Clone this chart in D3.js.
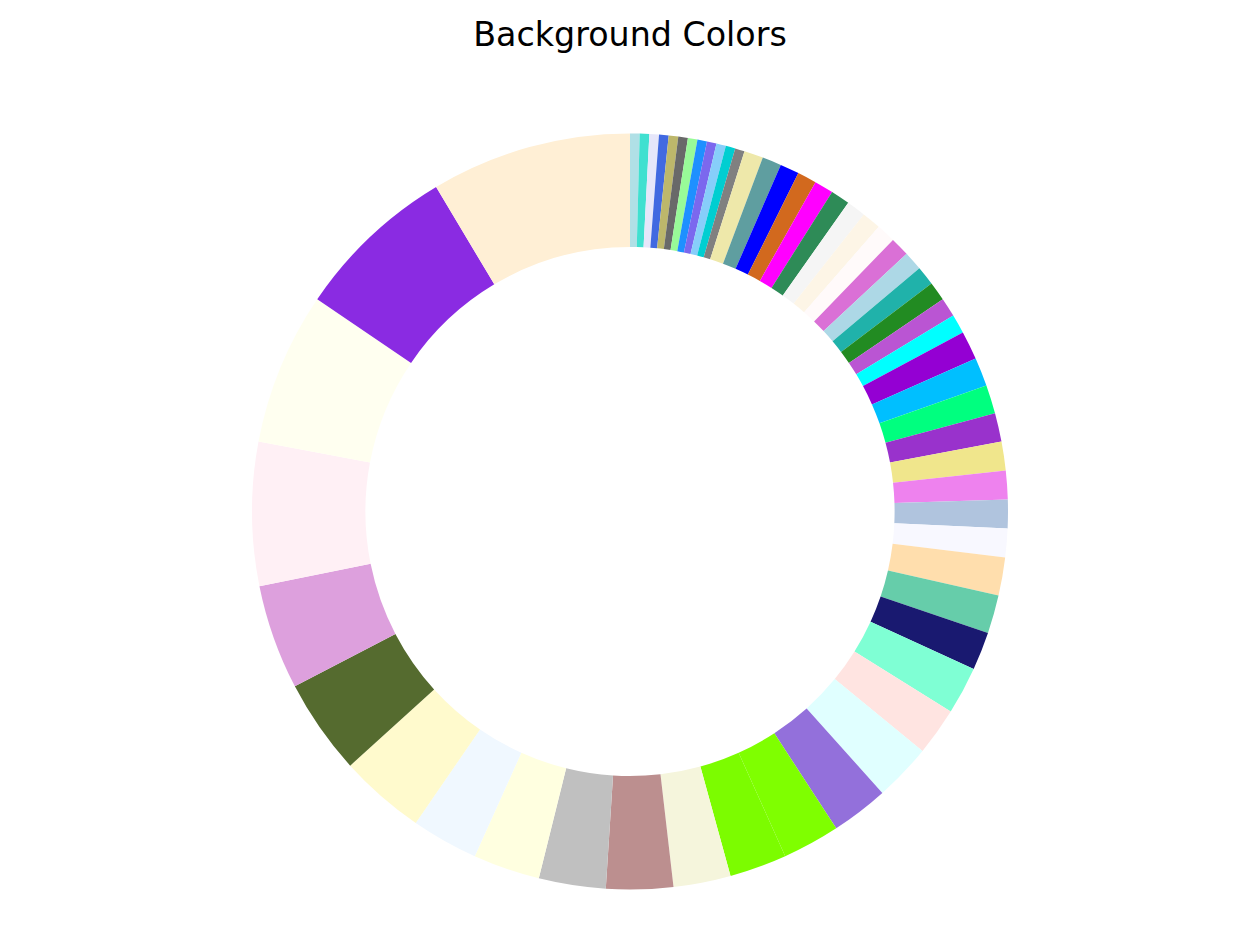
<!DOCTYPE html>
<html>
<head>
<meta charset="utf-8">
<script src="https://cdn.jsdelivr.net/npm/d3@7"></script>
<style>
  html, body { margin: 0; padding: 0; background: #ffffff; }
  svg { display: block; }
</style>
</head>
<body>
<script>
// Category names (CSS colour names) in clockwise order from 12 o'clock
const categories = [
  "powderblue", "turquoise", "lavender", "royalblue", "darkkhaki", "dimgray",
  "palegreen", "dodgerblue", "mediumslateblue", "lightskyblue", "darkturquoise", "gray",
  "palegoldenrod", "cadetblue", "blue", "chocolate", "magenta", "seagreen",
  "whitesmoke", "oldlace", "snow", "orchid", "lightblue", "lightseagreen",
  "forestgreen", "mediumorchid", "cyan",
  "darkviolet", "deepskyblue", "springgreen", "darkorchid", "khaki", "violet",
  "lightsteelblue", "ghostwhite",
  "navajowhite", "mediumaquamarine", "midnightblue",
  "aquamarine", "mistyrose",
  "lightcyan", "mediumpurple", "chartreuse", "lawngreen", "beige",
  "rosybrown", "silver", "lightyellow", "aliceblue",
  "lemonchiffon", "darkolivegreen", "plum", "lavenderblush", "ivory", "blueviolet", "papayawhip"
];
const values = [
  1, 1, 1, 1, 1, 1,
  1, 1, 1, 1, 1, 1,
  2, 2, 2, 2, 2, 2,
  2, 2, 2, 2, 2, 2,
  2, 2, 2,
  3, 3, 3, 3, 3, 3,
  3, 3,
  4, 4, 4,
  5, 5,
  6, 6, 6, 6, 6,
  7, 7, 7, 7,
  9, 10, 11, 15, 16, 17, 21
];
const title = "Background Colors";

const W = 1260, H = 950;
const cx = 630, cy = 511.5;
const outerR = 378, innerR = outerR * 0.7;

const data = categories.map((c, i) => ({ name: c, value: values[i] }));

const svg = d3.select("body").append("svg")
  .attr("width", W).attr("height", H);

svg.append("text")
  .attr("x", W / 2).attr("y", 46)
  .attr("text-anchor", "middle")
  .attr("font-family", "DejaVu Sans, sans-serif")
  .attr("font-size", 33.3)
  .attr("fill", "#000")
  .text(title);

const pie = d3.pie().value(d => d.value).sort(null)
  .startAngle(0).endAngle(2 * Math.PI);
const arc = d3.arc().innerRadius(innerR).outerRadius(outerR);
const color = d3.scaleOrdinal().domain(categories).range(categories);

svg.append("g").attr("transform", `translate(${cx},${cy})`)
  .selectAll("path")
  .data(pie(data))
  .join("path")
  .attr("d", arc)
  .attr("fill", d => color(d.data.name));
</script>
</body>
</html>
